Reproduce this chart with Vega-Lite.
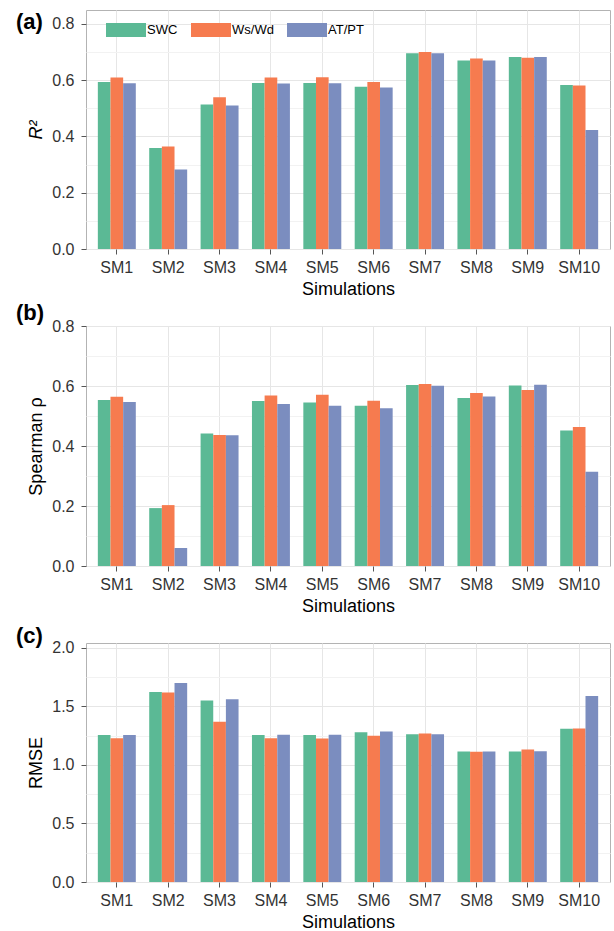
{
  "$schema": "https://vega.github.io/schema/vega-lite/v6.json",
  "padding": {"left": 15, "top": 9, "right": 0, "bottom": 0},
  "autosize": {"type": "pad"},
  "bounds": "flush",
  "spacing": 77,
  "config": {
    "font": "Liberation Sans",
    "view": {"stroke": "#b3b3b3", "strokeWidth": 1},
    "axis": {
      "labelFont": "Liberation Sans",
      "labelFontSize": 16,
      "labelColor": "#333333",
      "titleFont": "Liberation Sans",
      "titleFontSize": 18,
      "titleFontWeight": "normal",
      "titleColor": "#000000",
      "tickColor": "#555555",
      "tickSize": 5,
      "domain": false,
      "gridColor": "#e6e6e6"
    }
  },
  "datasets": {
    "r2": [
      {"sim": "SM1", "var": "SWC", "v": 0.593}, {"sim": "SM1", "var": "Ws/Wd", "v": 0.609}, {"sim": "SM1", "var": "AT/PT", "v": 0.589},
      {"sim": "SM2", "var": "SWC", "v": 0.359}, {"sim": "SM2", "var": "Ws/Wd", "v": 0.364}, {"sim": "SM2", "var": "AT/PT", "v": 0.282},
      {"sim": "SM3", "var": "SWC", "v": 0.513}, {"sim": "SM3", "var": "Ws/Wd", "v": 0.539}, {"sim": "SM3", "var": "AT/PT", "v": 0.510},
      {"sim": "SM4", "var": "SWC", "v": 0.590}, {"sim": "SM4", "var": "Ws/Wd", "v": 0.609}, {"sim": "SM4", "var": "AT/PT", "v": 0.588},
      {"sim": "SM5", "var": "SWC", "v": 0.590}, {"sim": "SM5", "var": "Ws/Wd", "v": 0.610}, {"sim": "SM5", "var": "AT/PT", "v": 0.589},
      {"sim": "SM6", "var": "SWC", "v": 0.576}, {"sim": "SM6", "var": "Ws/Wd", "v": 0.593}, {"sim": "SM6", "var": "AT/PT", "v": 0.574},
      {"sim": "SM7", "var": "SWC", "v": 0.695}, {"sim": "SM7", "var": "Ws/Wd", "v": 0.700}, {"sim": "SM7", "var": "AT/PT", "v": 0.695},
      {"sim": "SM8", "var": "SWC", "v": 0.670}, {"sim": "SM8", "var": "Ws/Wd", "v": 0.677}, {"sim": "SM8", "var": "AT/PT", "v": 0.670},
      {"sim": "SM9", "var": "SWC", "v": 0.682}, {"sim": "SM9", "var": "Ws/Wd", "v": 0.679}, {"sim": "SM9", "var": "AT/PT", "v": 0.682},
      {"sim": "SM10", "var": "SWC", "v": 0.583}, {"sim": "SM10", "var": "Ws/Wd", "v": 0.581}, {"sim": "SM10", "var": "AT/PT", "v": 0.423}
    ],
    "rho": [
      {"sim": "SM1", "var": "SWC", "v": 0.553}, {"sim": "SM1", "var": "Ws/Wd", "v": 0.564}, {"sim": "SM1", "var": "AT/PT", "v": 0.547},
      {"sim": "SM2", "var": "SWC", "v": 0.193}, {"sim": "SM2", "var": "Ws/Wd", "v": 0.203}, {"sim": "SM2", "var": "AT/PT", "v": 0.060},
      {"sim": "SM3", "var": "SWC", "v": 0.442}, {"sim": "SM3", "var": "Ws/Wd", "v": 0.437}, {"sim": "SM3", "var": "AT/PT", "v": 0.436},
      {"sim": "SM4", "var": "SWC", "v": 0.550}, {"sim": "SM4", "var": "Ws/Wd", "v": 0.568}, {"sim": "SM4", "var": "AT/PT", "v": 0.540},
      {"sim": "SM5", "var": "SWC", "v": 0.545}, {"sim": "SM5", "var": "Ws/Wd", "v": 0.571}, {"sim": "SM5", "var": "AT/PT", "v": 0.534},
      {"sim": "SM6", "var": "SWC", "v": 0.534}, {"sim": "SM6", "var": "Ws/Wd", "v": 0.551}, {"sim": "SM6", "var": "AT/PT", "v": 0.526},
      {"sim": "SM7", "var": "SWC", "v": 0.603}, {"sim": "SM7", "var": "Ws/Wd", "v": 0.607}, {"sim": "SM7", "var": "AT/PT", "v": 0.601},
      {"sim": "SM8", "var": "SWC", "v": 0.560}, {"sim": "SM8", "var": "Ws/Wd", "v": 0.577}, {"sim": "SM8", "var": "AT/PT", "v": 0.565},
      {"sim": "SM9", "var": "SWC", "v": 0.602}, {"sim": "SM9", "var": "Ws/Wd", "v": 0.587}, {"sim": "SM9", "var": "AT/PT", "v": 0.604},
      {"sim": "SM10", "var": "SWC", "v": 0.452}, {"sim": "SM10", "var": "Ws/Wd", "v": 0.463}, {"sim": "SM10", "var": "AT/PT", "v": 0.314}
    ],
    "rmse": [
      {"sim": "SM1", "var": "SWC", "v": 1.254}, {"sim": "SM1", "var": "Ws/Wd", "v": 1.228}, {"sim": "SM1", "var": "AT/PT", "v": 1.254},
      {"sim": "SM2", "var": "SWC", "v": 1.621}, {"sim": "SM2", "var": "Ws/Wd", "v": 1.618}, {"sim": "SM2", "var": "AT/PT", "v": 1.698},
      {"sim": "SM3", "var": "SWC", "v": 1.550}, {"sim": "SM3", "var": "Ws/Wd", "v": 1.368}, {"sim": "SM3", "var": "AT/PT", "v": 1.559},
      {"sim": "SM4", "var": "SWC", "v": 1.254}, {"sim": "SM4", "var": "Ws/Wd", "v": 1.228}, {"sim": "SM4", "var": "AT/PT", "v": 1.257},
      {"sim": "SM5", "var": "SWC", "v": 1.254}, {"sim": "SM5", "var": "Ws/Wd", "v": 1.225}, {"sim": "SM5", "var": "AT/PT", "v": 1.257},
      {"sim": "SM6", "var": "SWC", "v": 1.279}, {"sim": "SM6", "var": "Ws/Wd", "v": 1.248}, {"sim": "SM6", "var": "AT/PT", "v": 1.285},
      {"sim": "SM7", "var": "SWC", "v": 1.262}, {"sim": "SM7", "var": "Ws/Wd", "v": 1.268}, {"sim": "SM7", "var": "AT/PT", "v": 1.262},
      {"sim": "SM8", "var": "SWC", "v": 1.114}, {"sim": "SM8", "var": "Ws/Wd", "v": 1.112}, {"sim": "SM8", "var": "AT/PT", "v": 1.114},
      {"sim": "SM9", "var": "SWC", "v": 1.114}, {"sim": "SM9", "var": "Ws/Wd", "v": 1.131}, {"sim": "SM9", "var": "AT/PT", "v": 1.117},
      {"sim": "SM10", "var": "SWC", "v": 1.308}, {"sim": "SM10", "var": "Ws/Wd", "v": 1.310}, {"sim": "SM10", "var": "AT/PT", "v": 1.587}
    ]
  },
  "resolve": {"legend": {"color": "independent"}},
  "vconcat": [
    {
      "width": 524,
      "height": 239,
      "data": {"name": "r2"},
      "title": {"text": "(a)", "anchor": "start", "frame": "group", "orient": "none", "offset": 0, "dx": -70, "dy": 19, "baseline": "alphabetic", "fontSize": 22, "fontWeight": "bold", "font": "Liberation Sans", "color": "#000000"},
      "mark": {"type": "bar"},
      "encoding": {
        "x": {"field": "sim", "type": "nominal", "sort": null, "scale": {"paddingInner": 0, "paddingOuter": 0.1},
          "axis": {"title": "Simulations", "labelAngle": 0, "grid": true, "labelPadding": 5, "titlePadding": 5}},
        "xOffset": {"field": "var", "type": "nominal", "sort": ["SWC", "Ws/Wd", "AT/PT"], "scale": {"paddingInner": 0, "paddingOuter": 0.53}},
        "y": {"field": "v", "type": "quantitative", "scale": {"domain": [0, 0.849], "nice": false},
          "axis": {"title": "R²", "titleFontStyle": "italic", "values": [0, 0.1, 0.2, 0.3, 0.4, 0.5, 0.6, 0.7, 0.8],
            "labelExpr": "round(datum.value*10)%2==0 ? format(datum.value,'.1f') : ''",
            "tickOpacity": {"condition": {"test": "round(datum.value*10)%2==1", "value": 0}, "value": 1},
            "gridColor": {"condition": {"test": "round(datum.value*10)%2==1", "value": "#f2f2f2"}, "value": "#e6e6e6"},
            "labelPadding": 7, "titlePadding": 6}},
        "color": {"field": "var", "type": "nominal", "sort": ["SWC", "Ws/Wd", "AT/PT"],
          "scale": {"domain": ["SWC", "Ws/Wd", "AT/PT"], "range": ["#5bb995", "#f67b4f", "#7b8dbf"]},
          "legend": {"orient": "none", "legendX": 20, "legendY": 0, "direction": "horizontal", "title": null,
            "symbolType": "M-1,-0.35H1V0.35H-1Z", "symbolSize": 1600, "symbolStrokeWidth": 0, "symbolOpacity": 1,
            "labelFontSize": 13, "labelFont": "Liberation Sans", "labelColor": "#000000", "labelOffset": 1, "columnPadding": 13}}
      }
    },
    {
      "width": 524,
      "height": 240,
      "data": {"name": "rho"},
      "title": {"text": "(b)", "anchor": "start", "frame": "group", "orient": "none", "offset": 0, "dx": -70, "dy": -6, "baseline": "alphabetic", "fontSize": 22, "fontWeight": "bold", "font": "Liberation Sans", "color": "#000000"},
      "mark": {"type": "bar"},
      "encoding": {
        "x": {"field": "sim", "type": "nominal", "sort": null, "scale": {"paddingInner": 0, "paddingOuter": 0.1},
          "axis": {"title": "Simulations", "labelAngle": 0, "grid": true, "labelPadding": 5, "titlePadding": 5}},
        "xOffset": {"field": "var", "type": "nominal", "sort": ["SWC", "Ws/Wd", "AT/PT"], "scale": {"paddingInner": 0, "paddingOuter": 0.53}},
        "y": {"field": "v", "type": "quantitative", "scale": {"domain": [0, 0.8], "nice": false},
          "axis": {"title": "Spearman ρ", "values": [0, 0.1, 0.2, 0.3, 0.4, 0.5, 0.6, 0.7, 0.8],
            "labelExpr": "round(datum.value*10)%2==0 ? format(datum.value,'.1f') : ''",
            "tickOpacity": {"condition": {"test": "round(datum.value*10)%2==1", "value": 0}, "value": 1},
            "gridColor": {"condition": {"test": "round(datum.value*10)%2==1", "value": "#f2f2f2"}, "value": "#e6e6e6"},
            "labelPadding": 7, "titlePadding": 6}},
        "color": {"field": "var", "type": "nominal", "sort": ["SWC", "Ws/Wd", "AT/PT"],
          "scale": {"domain": ["SWC", "Ws/Wd", "AT/PT"], "range": ["#5bb995", "#f67b4f", "#7b8dbf"]}, "legend": null}
      }
    },
    {
      "width": 524,
      "height": 239,
      "data": {"name": "rmse"},
      "title": {"text": "(c)", "anchor": "start", "frame": "group", "orient": "none", "offset": 0, "dx": -70, "dy": 0, "baseline": "alphabetic", "fontSize": 22, "fontWeight": "bold", "font": "Liberation Sans", "color": "#000000"},
      "mark": {"type": "bar"},
      "encoding": {
        "x": {"field": "sim", "type": "nominal", "sort": null, "scale": {"paddingInner": 0, "paddingOuter": 0.1},
          "axis": {"title": "Simulations", "labelAngle": 0, "grid": true, "labelPadding": 5, "titlePadding": 5}},
        "xOffset": {"field": "var", "type": "nominal", "sort": ["SWC", "Ws/Wd", "AT/PT"], "scale": {"paddingInner": 0, "paddingOuter": 0.53}},
        "y": {"field": "v", "type": "quantitative", "scale": {"domain": [0, 2.04], "nice": false},
          "axis": {"title": "RMSE", "values": [0, 0.25, 0.5, 0.75, 1, 1.25, 1.5, 1.75, 2],
            "labelExpr": "round(datum.value*4)%2==0 ? format(datum.value,'.1f') : ''",
            "tickOpacity": {"condition": {"test": "round(datum.value*4)%2==1", "value": 0}, "value": 1},
            "gridColor": {"condition": {"test": "round(datum.value*4)%2==1", "value": "#f2f2f2"}, "value": "#e6e6e6"},
            "labelPadding": 7, "titlePadding": 6}},
        "color": {"field": "var", "type": "nominal", "sort": ["SWC", "Ws/Wd", "AT/PT"],
          "scale": {"domain": ["SWC", "Ws/Wd", "AT/PT"], "range": ["#5bb995", "#f67b4f", "#7b8dbf"]}, "legend": null}
      }
    }
  ]
}
